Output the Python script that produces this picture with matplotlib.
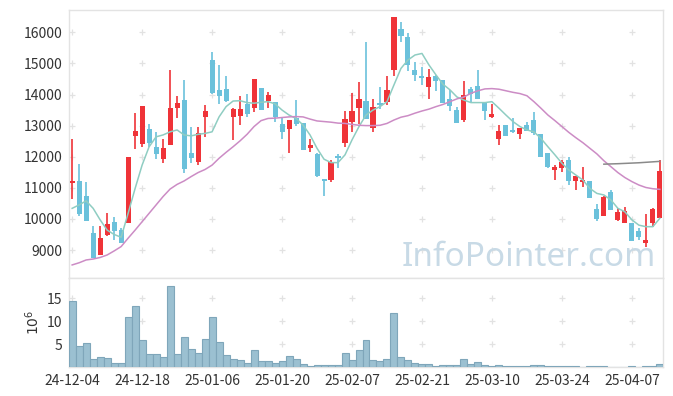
import numpy as np
import matplotlib
matplotlib.use("Agg")
import matplotlib.pyplot as plt

plt.rcParams['font.family'] = ['Noto Sans CJK KR', 'DejaVu Sans']

# daily candles, 24-12-04 .. 25-04-11 (trading days)
opens = [11150, 11220, 10740, 9550, 8840, 9490, 9900, 9640, 9880, 12680,
         12420, 12890, 12310, 11940, 12390, 13580, 13820, 12120, 11840, 13290,
         15110, 14150, 14180, 13290, 13320, 13680, 13580, 14210, 13780, 13750,
         13040, 12900, 13260, 13080, 12290, 12090, 11260, 11250, 12000, 12450,
         13130, 13550, 13790, 12930, 13730, 13770, 14790, 16110, 15850, 14790,
         14570, 14250, 14580, 14470, 13860, 13500, 13190, 14170, 14270, 13720,
         13290, 12580, 13020, 12830, 12740, 13010, 13180, 12730, 12120, 11580,
         11650, 11880, 11220, 11190, 11220, 10310, 10100, 10850, 9980, 9880,
         9870, 9610, 9240, 9880, 10040]
highs = [12560, 11755, 11180, 9780, 9780, 10180, 10050, 9720, 11990, 13400,
         13630, 13050, 12800, 12560, 14780, 13940, 14460, 12970, 12950, 13650,
         15380, 14950, 14610, 13570, 13960, 14010, 14490, 14210, 14070, 13750,
         13270, 13170, 13820, 13080, 12560, 12130, 11260, 11890, 12100, 13470,
         14060, 14400, 15680, 13850, 14250, 14610, 16490, 16320, 15970, 15060,
         14900, 14810, 14630, 14470, 14150, 13590, 14440, 14230, 14780, 13720,
         13690, 13010, 13020, 13230, 12920, 13120, 13430, 12730, 12120, 11730,
         11880, 11990, 11370, 11660, 11220, 10470, 10740, 10920, 10360, 10370,
         9870, 9720, 10170, 10340, 11890]
lows = [10630, 10100, 9940, 8730, 8840, 9450, 9320, 9210, 9880, 12240,
        12310, 12320, 11920, 11790, 12390, 13230, 11490, 11790, 11730, 12630,
        14010, 13700, 13770, 12530, 13030, 13270, 13450, 13510, 13550, 13130,
        12560, 12110, 13000, 12230, 12160, 11360, 10730, 11180, 11630, 12310,
        12800, 13060, 13220, 12800, 13520, 13660, 14610, 15680, 14750, 14440,
        14310, 13850, 14120, 13740, 13480, 13080, 13110, 13750, 13840, 13180,
        13230, 12370, 12650, 12770, 12560, 12830, 12710, 12000, 11630, 11240,
        11520, 11090, 10920, 11040, 10680, 9940, 10100, 10300, 9930, 9880,
        9300, 9320, 9090, 9730, 10040]
closes = [11200, 10170, 9940, 8730, 9390, 9830, 9620, 9210, 11990, 12830,
          13630, 12450, 12100, 12280, 13570, 13730, 11620, 11970, 12760, 13470,
          14060, 13960, 13800, 13530, 13530, 13380, 14490, 13510, 13970, 13270,
          12800, 13170, 13060, 12230, 12380, 11390, 11230, 11820, 11950, 13210,
          13470, 13860, 13220, 13600, 13670, 14140, 16490, 15890, 14960, 14640,
          14540, 14560, 14450, 13740, 13640, 13080, 13970, 14020, 13840, 13480,
          13370, 12830, 12650, 12790, 12920, 12830, 12770, 12000, 11680, 11660,
          11820, 11230, 11370, 11250, 10680, 10000, 10700, 10300, 10220, 10250,
          9300, 9430, 9320, 10310, 11540]

# volume, millions of shares
volume = [14.4, 4.6, 5.2, 1.7, 2.2, 2.0, 0.9, 0.9, 10.9, 13.3,
          5.9, 2.8, 2.8, 2.2, 17.7, 2.8, 6.6, 3.9, 3.1, 6.1,
          10.9, 5.5, 2.7, 1.8, 1.6, 0.9, 3.6, 1.4, 1.2, 0.9,
          1.2, 2.4, 1.7, 0.65, 0.3, 0.43, 0.43, 0.43, 0.43, 3.1,
          1.6, 3.8, 5.9, 1.6, 1.4, 1.7, 11.7, 2.2, 1.6, 0.9,
          0.65, 0.65, 0.15, 0.36, 0.36, 0.36, 1.7, 0.65, 1.1, 0.43,
          0.15, 0.43, 0.15, 0.15, 0.15, 0.15, 0.43, 0.43, 0.15, 0.15,
          0.15, 0.15, 0.15, 0.05, 0.15, 0.15, 0.15, 0.05, 0.05, 0.05,
          0.15, 0.05, 0.15, 0.15, 0.58]

# moving averages
ma_short = [10340, 10450, 10580, 10340, 9970, 9640, 9500, 9410, 10180, 10980,
            11730, 12320, 12640, 12700, 12800, 12860, 12700, 12670, 12720, 12750,
            12800, 13280, 13610, 13790, 13800, 13740, 13720, 13750, 13770, 13700,
            13500, 13340, 13230, 13020, 12700, 12270, 11920, 11810, 11810, 12060,
            12540, 12970, 13340, 13500, 13610, 13770, 14310, 14840, 15110, 15270,
            15320, 14950, 14630, 14330, 14150, 13920, 13820, 13740, 13740, 13740,
            13770, 13560, 13340, 13130, 12970, 12860, 12800, 12590, 12320, 12060,
            11790, 11570, 11410, 11250, 10980, 10820, 10770, 10610, 10340, 10230,
            9970, 9800, 9750, 9750, 10020]
ma_mid = [8520, 8590, 8680, 8710, 8760, 8840, 8970, 9110, 9380, 9640,
          9910, 10180, 10450, 10720, 10960, 11110, 11220, 11360, 11490, 11590,
          11730, 11950, 12140, 12320, 12510, 12720, 12970, 13160, 13230, 13240,
          13260, 13280, 13290, 13280, 13210, 13150, 13130, 13110, 13080, 13070,
          13040, 13010, 13000, 13000, 13010, 13070, 13180, 13270, 13320, 13400,
          13470, 13530, 13610, 13680, 13770, 13860, 13920, 14040, 14120, 14180,
          14190, 14170, 14120, 14070, 14030, 13960, 13770, 13560, 13340, 13160,
          12970, 12780, 12610, 12450, 12270, 12090, 11870, 11680, 11490, 11330,
          11200, 11090, 11010, 10970, 10950]
ma_long_start = 76
ma_long = [11760, 11768, 11775, 11785, 11795, 11805, 11820, 11835, 11850]

tick_pos = [0, 10, 20, 30, 40, 50, 60, 70, 80]
tick_labels = ['24-12-04', '24-12-18', '25-01-06', '25-01-20', '25-02-07',
               '25-02-21', '25-03-10', '25-03-24', '25-04-07']

up_col = '#ef3338'
down_col = '#6bc1db'
txt_col = '#333333'
edge_col = '#e3e3e3'

fig = plt.figure(figsize=(6.73, 3.96), dpi=100)
ax = fig.add_axes([69/673, 1 - 278/396, 594/673, 268/396])
axv = fig.add_axes([69/673, 1 - 367/396, 594/673, 89/396], sharex=ax)

x = np.arange(len(closes))
o = np.array(opens); c = np.array(closes)
h = np.array(highs); l = np.array(lows)
up = c >= o
cols = np.where(up, up_col, down_col)
body_lo = np.minimum(o, c)
body_h = np.maximum(np.abs(c - o), 60)

ax.vlines(x, l, h, colors=cols, linewidth=1.2, zorder=3)
ax.bar(x, body_h, bottom=body_lo, width=0.72, color=cols, linewidth=0, zorder=4)

ax.plot(x, ma_short, color='#8fcdc2', linewidth=1.1, zorder=5)
ax.plot(x, ma_mid, color='#cc8cc5', linewidth=1.1, zorder=5)
ax.plot(np.arange(ma_long_start, ma_long_start + len(ma_long)), ma_long,
        color='#8a8a8a', linewidth=1.1, zorder=5)

ax.text(656, 130, 'InfoPointer.com', transform=None, ha='right', va='baseline',
        fontsize=24, color='#c8dae6', family='Noto Sans', zorder=1)

axv.bar(x, volume, width=1.0, color='#9bc0d1', edgecolor='#7fa6ba', linewidth=0.8, zorder=3)

ax.set_xlim(-0.45, 84.45)
ax.set_ylim(8100, 16717)
axv.set_ylim(0, 19.4)

ax.set_yticks(range(9000, 16001, 1000))
axv.set_yticks([5, 10, 15])
axv.set_xticks(tick_pos)
axv.set_xticklabels(tick_labels)
plt.setp(ax.get_xticklabels(), visible=False)

# light "+" grid marks at tick intersections
gx, gy = np.meshgrid(tick_pos, range(9000, 16001, 1000))
ax.plot(gx.ravel(), gy.ravel(), '+', color='#e2e2e2', markersize=5, mew=0.9, zorder=0)
gx, gy = np.meshgrid(tick_pos, [5, 10, 15])
axv.plot(gx.ravel(), gy.ravel(), '+', color='#e2e2e2', markersize=5, mew=0.9, zorder=0)

for a in (ax, axv):
    for s in a.spines.values():
        s.set_color(edge_col)
        s.set_linewidth(1.0)
    a.tick_params(length=0, labelsize=10, colors=txt_col, pad=5)

axv.text(-0.061, 0.5, r'$10^6$', transform=axv.transAxes, rotation=90,
         ha='center', va='center', fontsize=10, color=txt_col)

fig.savefig('out.png', dpi=100)
